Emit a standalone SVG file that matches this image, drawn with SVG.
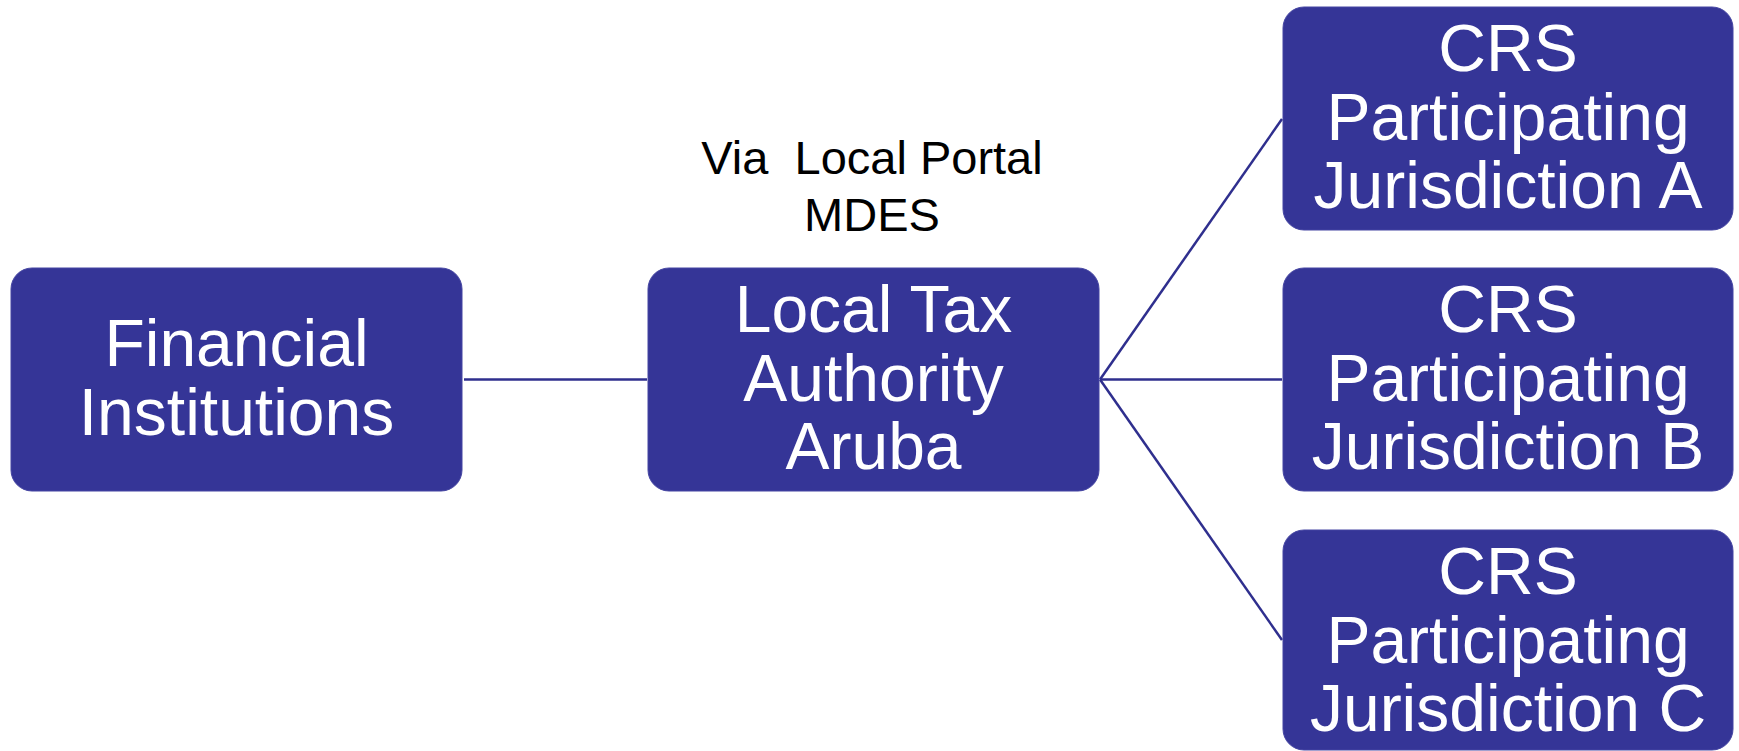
<svg xmlns="http://www.w3.org/2000/svg" width="1739" height="751" viewBox="0 0 1739 751">
  <style>
    .box { fill: #353597; stroke: #4545a2; stroke-width: 1; }
    .lbl { font-family: "Liberation Sans", Arial, sans-serif; font-size: 66px; fill: #ffffff; text-anchor: middle; }
    .note { font-family: "Liberation Sans", Arial, sans-serif; font-size: 47px; fill: #000000; text-anchor: middle; white-space: pre; }
    .link { stroke: #2f2f8e; stroke-width: 2.5; fill: none; }
  </style>
  <rect width="1739" height="751" fill="#ffffff"/>

  <!-- connectors -->
  <g id="connectors">
    <line class="link" x1="464" y1="379.5" x2="647" y2="379.5"/>
    <line class="link" x1="1100" y1="379.5" x2="1282" y2="119"/>
    <line class="link" x1="1100" y1="379.5" x2="1282" y2="379.5"/>
    <line class="link" x1="1100" y1="379.5" x2="1282" y2="640"/>
  </g>

  <!-- annotation above the tax authority -->
  <g id="portal-note">
    <text class="note" x="872" y="174" xml:space="preserve">Via  Local Portal</text>
    <text class="note" x="872" y="231">MDES</text>
  </g>

  <g id="financial-institutions">
    <rect class="box" x="11" y="268" width="451" height="223" rx="21"/>
    <text class="lbl" x="236.5" y="366">Financial</text>
    <text class="lbl" x="236.5" y="435">Institutions</text>
  </g>

  <g id="local-tax-authority">
    <rect class="box" x="648" y="268" width="451" height="223" rx="21"/>
    <text class="lbl" x="873.5" y="332">Local Tax</text>
    <text class="lbl" x="873.5" y="401">Authority</text>
    <text class="lbl" x="873.5" y="469">Aruba</text>
  </g>

  <g id="jurisdiction-a">
    <rect class="box" x="1283" y="7" width="450" height="223" rx="21"/>
    <text class="lbl" x="1508" y="71">CRS</text>
    <text class="lbl" x="1508" y="140">Participating</text>
    <text class="lbl" x="1508" y="208">Jurisdiction A</text>
  </g>

  <g id="jurisdiction-b">
    <rect class="box" x="1283" y="268" width="450" height="223" rx="21"/>
    <text class="lbl" x="1508" y="332">CRS</text>
    <text class="lbl" x="1508" y="401">Participating</text>
    <text class="lbl" x="1508" y="469">Jurisdiction B</text>
  </g>

  <g id="jurisdiction-c">
    <rect class="box" x="1283" y="530" width="450" height="220" rx="21"/>
    <text class="lbl" x="1508" y="594">CRS</text>
    <text class="lbl" x="1508" y="663">Participating</text>
    <text class="lbl" x="1508" y="731">Jurisdiction C</text>
  </g>
</svg>
